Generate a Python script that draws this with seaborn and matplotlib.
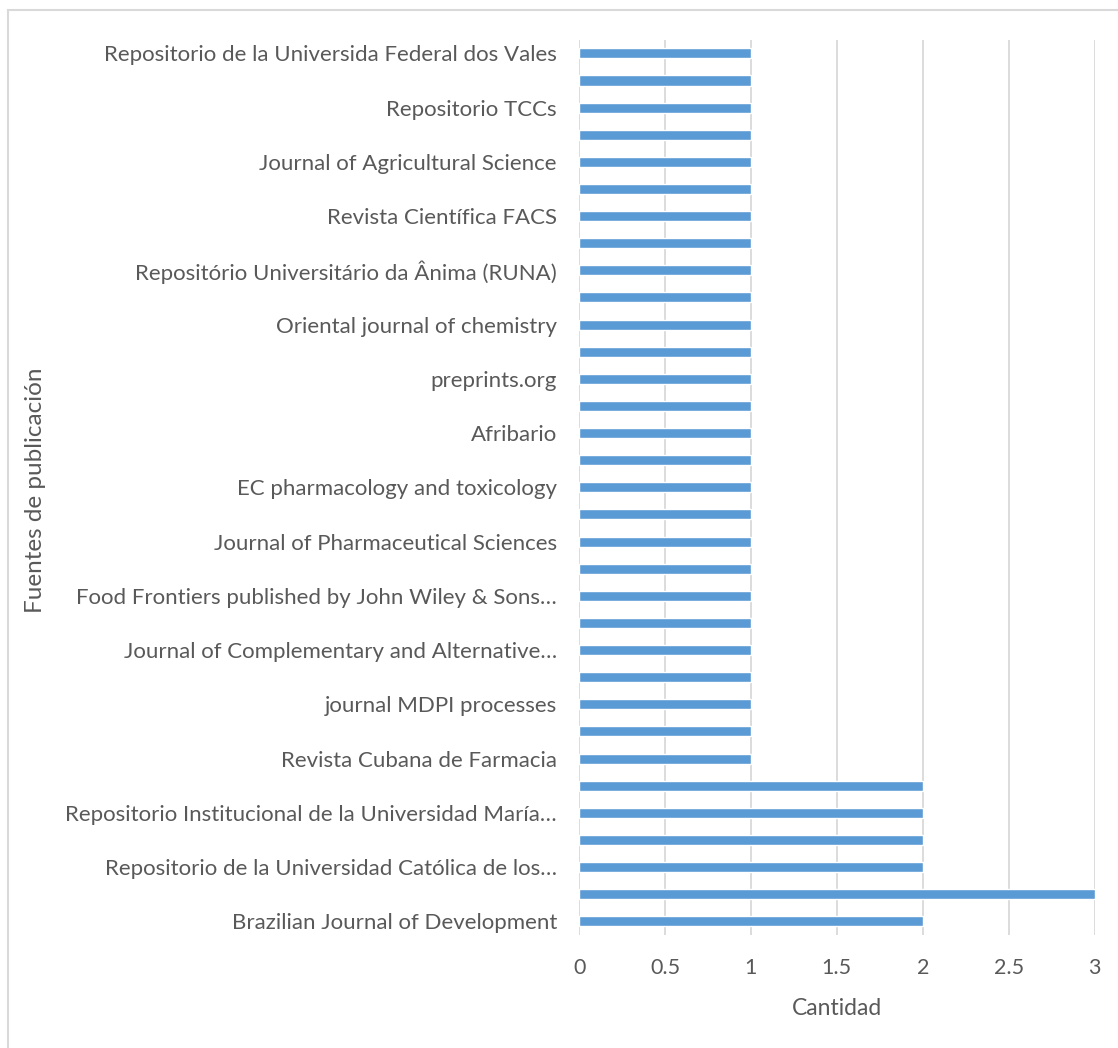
import matplotlib
matplotlib.use('Agg')
import matplotlib.pyplot as plt
import matplotlib.patches as mpatches
import pandas as pd
import seaborn as sns

# labels shown on the axis (Excel skipped every other one)
etiquetas = ['Repositorio de la Universida Federal dos Vales', '',
             'Repositorio TCCs', '',
             'Journal of Agricultural Science', '',
             'Revista Científica FACS', '',
             'Repositório Universitário da Ânima (RUNA)', '',
             'Oriental journal of chemistry', '',
             'preprints.org', '',
             'Afribario', '',
             'EC pharmacology and toxicology', '',
             'Journal of Pharmaceutical Sciences', '',
             'Food Frontiers published by John Wiley & Sons…', '',
             'Journal of Complementary and Alternative…', '',
             'journal MDPI processes', '',
             'Revista Cubana de Farmacia', '',
             'Repositorio Institucional de la Universidad María…', '',
             'Repositorio de la Universidad Católica de los…', '',
             'Brazilian Journal of Development']

cantidad = [1] * 27 + [2, 2, 2, 2, 3, 2]

df = pd.DataFrame({'fuente': [f'f{i}' for i in range(len(cantidad))],
                   'cantidad': cantidad})

sns.set_style('white')
plt.rcParams['font.family'] = ['Lato', 'DejaVu Sans']
gris = '#595959'

fig = plt.figure(figsize=(11.18, 10.48), dpi=100)
ax = fig.add_axes([0.518, 0.108, 0.461, 0.854])

sns.barplot(data=df, x='cantidad', y='fuente', orient='h', color='#5B9BD5',
            width=0.37, saturation=1, ax=ax)

ax.set_xlim(0, 3)
ax.set_xticks([0, 0.5, 1, 1.5, 2, 2.5, 3])
ax.set_xticklabels(['0', '0.5', '1', '1.5', '2', '2.5', '3'])
ax.set_yticks(range(len(etiquetas)))
ax.set_yticklabels(etiquetas)
ax.grid(True, axis='x', color='#D9D9D9', linewidth=1.3)
ax.set_axisbelow(True)
for s in ax.spines.values():
    s.set_visible(False)
ax.tick_params(axis='y', length=0, pad=16, labelsize=16, labelcolor=gris)
ax.tick_params(axis='x', length=0, pad=17, labelsize=15.5, labelcolor=gris)

ax.set_xlabel('Cantidad', fontsize=16.5, color=gris, labelpad=14)
ax.set_ylabel('')
fig.text(0.032, 0.532, 'Fuentes de publicación', rotation=90, fontsize=17.5,
         color=gris, ha='center', va='center')

# outer chart border
fig.patches.append(mpatches.Rectangle((8 / 1118, -0.1), 1.2, 1 - 10 / 1048 + 0.1,
                                      transform=fig.transFigure, fill=False,
                                      edgecolor='#D9D9D9', linewidth=1.5))

fig.savefig('out.png', dpi=100)
